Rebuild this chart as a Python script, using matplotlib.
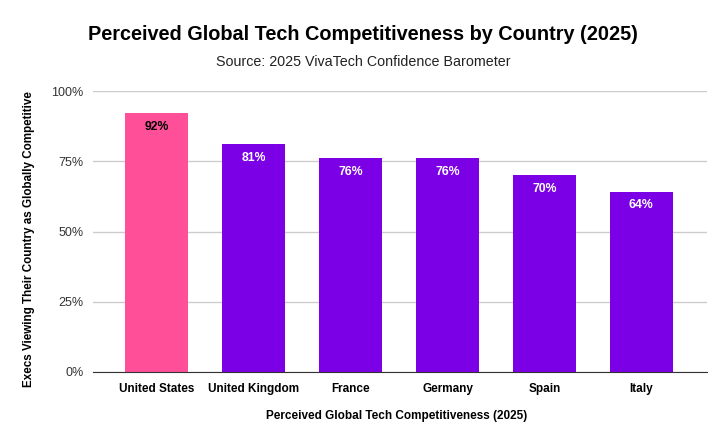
import matplotlib
matplotlib.use("Agg")
import matplotlib.pyplot as plt
from matplotlib.ticker import FuncFormatter

countries = ["United States", "United Kingdom", "France", "Germany", "Spain", "Italy"]
values = [92, 81, 76, 76, 70, 64]
bar_colors = ["#FF4F98", "#7B00E6", "#7B00E6", "#7B00E6", "#7B00E6", "#7B00E6"]
label_colors = ["black", "white", "white", "white", "white", "white"]
yticks = [0, 25, 50, 75, 100]

plt.rcParams["font.family"] = ["Liberation Sans", "DejaVu Sans"]

fig = plt.figure(figsize=(7.26, 4.47), dpi=100)
ax = fig.add_axes([93 / 726, 1 - 372 / 447, (707 - 93) / 726, (372 - 91) / 447])

x = range(len(countries))
bars = ax.bar(x, values, width=0.65, color=bar_colors, zorder=3)
for b, v, c in zip(bars, values, label_colors):
    ax.text(b.get_x() + b.get_width() / 2, v - 2.6, f"{v}%", ha="center", va="top",
            color=c, fontsize=8.8, fontweight="bold")

ax.set_xlim(-0.66, len(countries) - 0.32)
ax.set_ylim(0, 100)
ax.set_yticks(yticks)
ax.yaxis.set_major_formatter(FuncFormatter(lambda v, p: f"{int(v)}%"))
ax.grid(axis="y", color="#cccccc", linewidth=1, zorder=0)
for s in ["top", "right", "left"]:
    ax.spines[s].set_visible(False)
ax.spines["bottom"].set_color("#333333")
ax.spines["bottom"].set_zorder(4)
ax.tick_params(axis="both", length=0, labelsize=9)
ax.tick_params(axis="y", pad=7, labelcolor="#333333")
ax.set_xticks(list(x))
ax.set_xticklabels(countries, fontweight="bold", fontsize=8.5)
ax.tick_params(axis="x", pad=8)

fig.text(0.5, 1 - 34 / 447, "Perceived Global Tech Competitiveness by Country (2025)",
         ha="center", va="center", fontsize=14.3, fontweight="bold")
fig.text(0.5, 1 - 62 / 447, "Source: 2025 VivaTech Confidence Barometer",
         ha="center", va="center", fontsize=10.3, color="#222222")
fig.text(397 / 726, 1 - 416 / 447, "Perceived Global Tech Competitiveness (2025)",
         ha="center", va="center", fontsize=8.5, fontweight="bold")
fig.text(29 / 726, 1 - 239 / 447, "Execs Viewing Their Country as Globally Competitive",
         ha="center", va="center", rotation=90, fontsize=8.4, fontweight="bold")

fig.savefig("out.png", dpi=100)
